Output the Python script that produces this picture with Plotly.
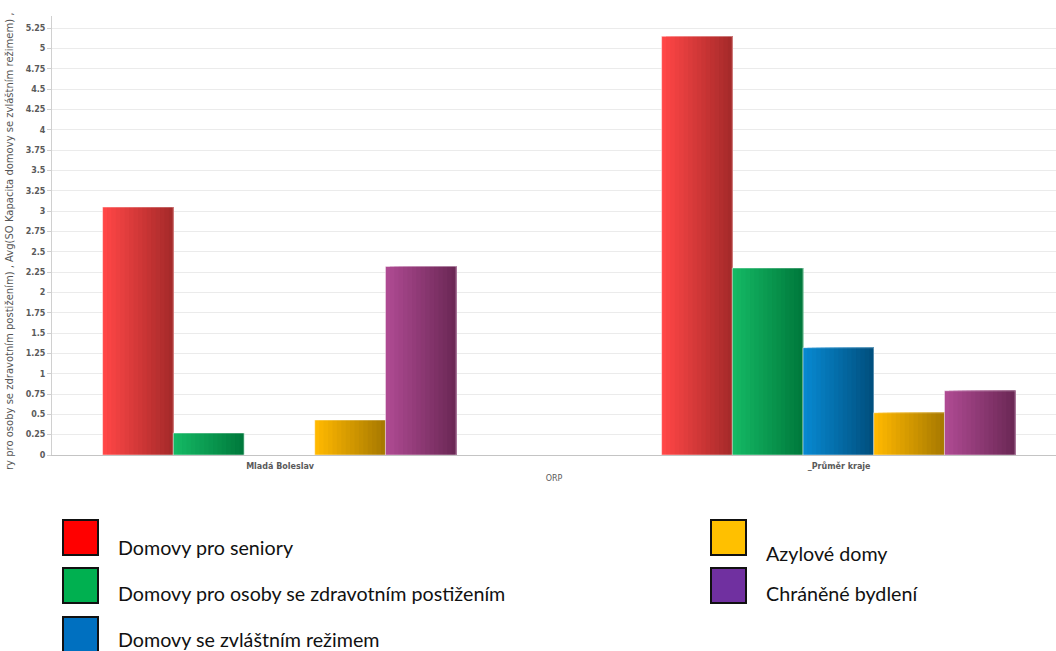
import plotly.graph_objects as go

# ---- data ----
categories = ["Mladá Boleslav", "_Průměr kraje"]
series_names = [
    "Domovy pro seniory",
    "Domovy pro osoby se zdravotním postižením",
    "Domovy se zvláštním režimem",
    "Azylové domy",
    "Chráněné bydlení",
]
seniory = [3.05, 5.15]
zdrav_post = [0.27, 2.30]
zvl_rezim = [0.0, 1.32]
azylove = [0.43, 0.52]
chranene = [2.32, 0.79]
y_ticks = [i * 0.25 for i in range(22)]
y_tick_labels = ["0", "0.25", "0.5", "0.75", "1", "1.25", "1.5", "1.75", "2", "2.25", "2.5",
                 "2.75", "3", "3.25", "3.5", "3.75", "4", "4.25", "4.5", "4.75", "5", "5.25"]
y_title = "ry pro osoby se zdravotním postižením) , Avg(SO Kapacita domovy se zvláštním režimem) ,"
x_title = "ORP"

# ---- styles ----
grad = [
    ("#ff4646", "#a62a2a"),
    ("#14b864", "#007a3c"),
    ("#0888d0", "#00507f"),
    ("#ffb800", "#a87a00"),
    ("#ae4a92", "#6c2856"),
]
legend_colors = ["#ff0000", "#00b050", "#0070c0", "#ffc000", "#7030a0"]
values = [seniory, zdrav_post, zvl_rezim, azylove, chranene]

W, H = 1056, 651
ML, MR, MT, MB = 52, 0, 16, 196
bar_w = 0.1265
group_start = -0.3175
N = 16


def hx(c):
    c = c.lstrip("#")
    return [int(c[i:i + 2], 16) for i in (0, 2, 4)]


def mix(a, b, t):
    A, B = hx(a), hx(b)
    return "rgb(%d,%d,%d)" % tuple(round(A[i] + (B[i] - A[i]) * t) for i in range(3))


fig = go.Figure()
for s, vals in enumerate(values):
    start = group_start + s * bar_w
    c0, c1 = grad[s]
    for k in range(N):
        off = start + k * bar_w / N
        fig.add_trace(go.Bar(
            x=categories, y=vals,
            offset=off, width=bar_w - k * bar_w / N,
            marker=dict(color=mix(c0, c1, k / (N - 1)), line=dict(width=0)),
            showlegend=False, hoverinfo="skip",
        ))
    # light outline
    fig.add_trace(go.Bar(
        x=categories, y=vals, offset=start, width=bar_w,
        marker=dict(color="rgba(0,0,0,0)", line=dict(width=1, color="rgba(255,255,255,0.45)")),
        name=series_names[s], showlegend=False,
    ))

tick_font = dict(family="DejaVu Sans", size=8, color="#5a5a5a", weight="bold")

fig.update_layout(
    width=W, height=H,
    margin=dict(l=ML, r=MR, t=MT, b=MB, pad=0),
    paper_bgcolor="white", plot_bgcolor="white",
    barmode="overlay",
    showlegend=False,
    xaxis=dict(
        type="category", range=[-0.408, 1.388],
        showgrid=False, showline=True, linecolor="#c4c4c4", linewidth=1,
        ticks="outside", ticklen=3, tickcolor="rgba(0,0,0,0)",
        tickfont=tick_font,
        title=dict(text=x_title, font=dict(family="DejaVu Sans", size=8, color="#5a5a5a"), standoff=5),
        zeroline=False,
    ),
    yaxis=dict(
        range=[0, 5.4], tickvals=y_ticks, ticktext=y_tick_labels,
        showgrid=True, gridcolor="#ebebeb", gridwidth=1,
        showline=True, linecolor="#d0d0d0", linewidth=1,
        ticks="outside", ticklen=4, tickcolor="#d0d0d0",
        tickfont=tick_font,
        zeroline=False,
    ),
)

pw, ph = W - ML - MR, H - MT - MB


def px2x(px):
    return (px - ML) / pw


def px2y(py):
    return (H - MB - py) / ph


# truncated y-axis title (as shown)
fig.add_annotation(
    text=y_title, textangle=-90, xref="paper", yref="paper",
    x=px2x(10), y=px2y(242),
    showarrow=False, xanchor="center", yanchor="middle",
    font=dict(family="DejaVu Sans", size=10, color="#555555"),
)

# custom legend
legend_items = [
    (63, 520, 116, 547, 0),
    (63, 568, 116, 593, 1),
    (63, 617, 116, 639, 2),
    (711, 520, 764, 553, 3),
    (711, 568, 764, 593, 4),
]
for sx, sy, tx, ty, i in legend_items:
    fig.add_shape(type="rect", xref="paper", yref="paper",
                  x0=px2x(sx), x1=px2x(sx + 35), y0=px2y(sy), y1=px2y(sy + 35),
                  fillcolor=legend_colors[i], line=dict(color="#111111", width=2))
    fig.add_annotation(text=series_names[i], xref="paper", yref="paper",
                       x=px2x(tx), y=px2y(ty), xanchor="left", yanchor="middle",
                       showarrow=False, font=dict(family="Lato", size=19.7, color="#111111"))

fig.write_html("out.html", config={"displayModeBar": False},
               post_script="document.body.style.margin='0';document.body.style.overflow='hidden';")
